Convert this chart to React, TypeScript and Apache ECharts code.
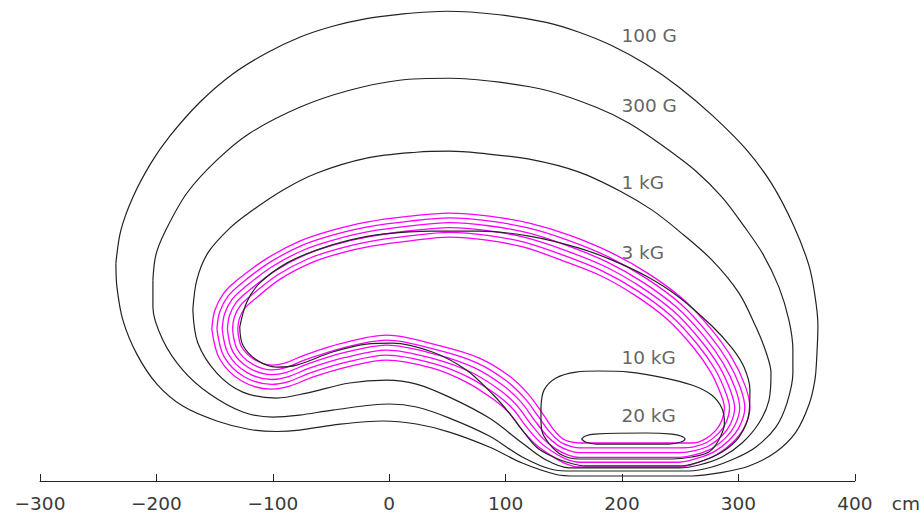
import React, { useEffect, useRef } from "react";
import * as echarts from "echarts";

type P = number[][];

const xTicks = [-300, -200, -100, 0, 100, 200, 300, 400];
const unit = "cm";
const labelNames = ["100 G", "300 G", "1 kG", "3 kG", "10 kG", "20 kG"];
const labelX = [199.5, 199.5, 199.5, 199.5, 199.5, 199.5];
const labelY = [382, 322, 256.5, 196.5, 106.4, 56.6];

const g100: P = [[-234.8,187],[-230.5,215.3],[-220.2,243.6],[-204.7,272.8],[-188.5,296],[-162.7,325.1],[-134.4,349.4],[-105.3,367.4],[-76.9,380.9],[-48.6,390.3],[-19.5,396.9],[8.8,400.6],[49.2,403.2],[94.6,400.2],[134.9,393.7],[163.2,385.2],[191.5,373.6],[220.7,357.7],[249,338],[277.3,314],[306.5,284.8],[328.8,254.8],[347.7,218.7],[360.5,185.3],[365.7,159.6],[368.3,133.8],[367.4,108.1],[365.7,86.6],[360.5,65.2],[349.4,42],[332.2,24.9],[309.1,12.9],[283.3,6.9],[260.2,4.3],[160.7,4.3],[143.5,5.6],[114.3,15.4],[86,29.2],[51.7,42],[23.4,48.9],[-5.7,51.5],[-48.6,48],[-76.9,43.7],[-96.7,42.5],[-119.8,44.2],[-148.1,51.5],[-177.3,64.3],[-199.6,83.2],[-216.8,108.9],[-228.8,138.1],[-233.9,166.4]];
const g300: P = [[-203,172.4],[-200.5,193.9],[-192.8,213.6],[-173.9,247],[-148.1,275.4],[-119.8,298.5],[-76.9,320.8],[-34.1,335.4],[8.8,344],[51.7,345.7],[94.6,342.3],[134.9,335.4],[177.8,320.8],[206.1,307.1],[234.4,288.2],[263.6,265.9],[285.9,243.6],[304.8,218.7],[321.1,194.7],[334.8,166.4],[343.4,138.1],[346.8,112.4],[346.8,92.6],[341.7,66.9],[332.2,46.3],[315.1,29.2],[297.9,19.7],[277.3,12],[257.6,8.6],[159,8.6],[140.1,9.9],[114.3,20.6],[86,38.6],[51.7,54],[23.4,63.5],[0.3,66.1],[-48.6,60.9],[-76.9,56.6],[-100.1,54.9],[-125.8,59.2],[-154.1,74.6],[-177.3,95.2],[-194.5,121],[-203,149.3]];
const kg1: P = [[-168.7,146.7],[-165.3,172.4],[-155.9,195.6],[-137,217],[-119.8,230.7],[-91.5,249.6],[-62.4,264.2],[-19.5,277.1],[23.4,282.2],[51.7,283.1],[77.5,281.4],[120.3,276.2],[163.2,265.1],[200.1,247.9],[225.9,232.5],[249,214.5],[277.3,189.6],[300.5,161.3],[315.1,132.1],[323.7,110.7],[328,92.6],[326.3,69.5],[317.7,49.8],[303.1,32.6],[285.9,20.6],[266.2,13.7],[249,11.2],[154.7,11.2],[134.9,18],[114.3,32.6],[86,54],[51.7,72],[23.4,83.2],[-2.3,86.6],[-34.1,84.1],[-70.9,75.5],[-96.7,71.2],[-125.8,76.3],[-148.1,92.6],[-164.4,118.4]];
const kg3: P = [[-128.4,132.1],[-122.4,153.5],[-111.3,169.8],[-88.1,187],[-62.4,198.2],[-34.1,206.7],[-5.7,211.9],[37.1,214.5],[77.5,214.5],[120.3,210.2],[163.2,199.9],[191.5,189.6],[220.7,175.9],[249,157.8],[277.3,133],[294.5,114.1],[304.8,97.8],[309.9,78.1],[309.1,58.3],[300.5,37.7],[285.9,24.9],[266.2,16.3],[249,12.9],[169.2,12.9],[152,16.3],[137.5,22.3],[126.4,29.2],[114.3,43.7],[103.2,58.3],[89.5,73.8],[66.3,95.2],[37.1,110.7],[2.8,118.4],[-19.5,117.5],[-48.6,110.7],[-79.5,99.5],[-96.7,97.8],[-113.8,103.8],[-125.8,116.7]];
const kg10: P = [[130.4,63.5],[133,78],[143.3,88.4],[160.4,93.5],[180,94.4],[206,93.5],[234,89],[260,82.4],[277,73.8],[285.7,62.6],[288,49.8],[283,35],[274.6,24.9],[260,20.6],[242.8,18.9],[163,18.9],[148.4,22.3],[137,32.6],[131,43.8],[130.4,55]];
const kg20: P = [[165.1,36],[168.6,38.6],[176.3,40.3],[220.7,41.2],[243,40.3],[250.7,38.6],[254.1,36],[250.7,33.5],[240.4,31.7],[178,31.7],[168.6,33.5]];

const coil1: P = [[-152.4,130.4],[-149.9,146.2],[-142.1,161.3],[-129.8,173.1],[-105.3,190.9],[-76.9,205.9],[-48.6,215.3],[-19.5,222.2],[17.4,227.3],[51.7,229.9],[86,227.3],[120.3,221.3],[154.7,211],[191.5,195.6],[223.3,177.6],[253.3,155.3],[277.3,129.5],[294.5,105.5],[305.6,82.3],[309.9,62.6],[304.8,45.5],[294.5,32.6],[280.8,22.3],[266.2,16.3],[249,12],[163.2,12],[150.4,15.4],[138.4,22.3],[126.4,30.9],[114.3,43.7],[103.2,58.3],[90.3,69.5],[66.3,84.9],[37.1,96.9],[-2.3,103.8],[-36.6,97.8],[-65.8,89.2],[-85.5,81.5],[-101,78.9],[-126.7,85.8],[-145.6,104.7]];
const coil2: P = [[-148,130.4],[-145.7,144.8],[-138.5,158.6],[-127.3,169.4],[-103,187.4],[-74.9,202.2],[-47.2,211.4],[-18.6,218.1],[17.8,223.1],[51.7,225.8],[85.6,223.2],[119.4,217.2],[153.3,206.7],[189.5,191.8],[220.9,173.9],[250.5,151.9],[274.1,126.5],[290.8,103.1],[301.5,80.7],[305.5,62.6],[301,46.9],[291.8,34.8],[278.9,25],[265,19.6],[249,16.1],[163.2,16.1],[151.6,19],[140.5,25.1],[129.3,33.6],[117.7,46.6],[106.5,61.6],[92.9,73.6],[68.5,89],[38.3,100.8],[-2.3,108.1],[-37.6,101.8],[-67.2,93],[-86.4,85.4],[-101,83],[-124.6,89.5],[-141.9,106.8]];
const coil3: P = [[-143.5,130.4],[-141.4,143.5],[-135,155.9],[-124.8,165.7],[-100.7,183.9],[-73,198.5],[-45.9,207.4],[-17.8,214],[18.3,218.9],[51.7,221.7],[85.2,219.1],[118.5,213.1],[151.9,202.4],[187.4,187.9],[218.5,170.3],[247.7,148.5],[271,123.5],[287.1,100.8],[297.4,79.1],[301.1,62.6],[297.2,48.2],[289,37],[277,27.8],[263.8,22.8],[249,20.2],[163.2,20.2],[152.8,22.6],[142.5,28],[132.2,36.4],[121.2,49.5],[109.7,64.8],[95.5,77.7],[70.8,93.1],[39.5,104.6],[-2.3,112.4],[-38.7,105.8],[-68.6,96.8],[-87.2,89.4],[-101,87.1],[-122.4,93.2],[-138.2,109]];
const coil4: P = [[-139,130.4],[-137.2,142.1],[-131.4,153.3],[-122.3,162],[-98.3,180.3],[-71,194.7],[-44.5,203.5],[-16.9,209.8],[18.7,214.8],[51.7,217.5],[84.7,214.9],[117.5,208.9],[150.6,198.2],[185.4,184.1],[216.1,166.6],[244.9,145.2],[267.8,120.4],[283.5,98.4],[293.2,77.5],[296.8,62.6],[293.5,49.6],[286.3,39.3],[275.1,30.5],[262.6,26.1],[249,24.4],[163.2,24.4],[154,26.3],[144.6,30.8],[135.1,39.1],[124.6,52.5],[113,68.1],[98,81.9],[73,97.3],[40.7,108.5],[-2.3,116.6],[-39.7,109.9],[-69.9,100.5],[-88.1,93.3],[-101,91.3],[-120.3,97],[-134.4,111.1]];
const coil5: P = [[-134.6,130.4],[-133,140.8],[-127.9,150.6],[-119.8,158.3],[-96,176.8],[-69.1,191],[-43.2,199.5],[-16.1,205.7],[19.2,210.6],[51.7,213.4],[84.3,210.8],[116.6,204.8],[149.2,193.9],[183.3,180.2],[213.7,163],[242.1,141.8],[264.7,117.4],[279.8,96.1],[289.1,75.9],[292.4,62.6],[289.7,50.9],[283.5,41.5],[273.2,33.3],[261.4,29.3],[249,28.5],[163.2,28.5],[155.2,29.9],[146.6,33.7],[138,41.9],[128.1,55.4],[116.2,71.3],[100.6,86],[75.3,101.4],[41.9,112.3],[-2.3,120.9],[-40.8,113.9],[-71.3,104.3],[-88.9,97.3],[-101,95.4],[-118.1,100.7],[-130.7,113.3]];
const coil6: P = [[-130.1,130.4],[-128.7,139.4],[-124.3,147.9],[-117.3,154.6],[-93.7,173.3],[-67.1,187.3],[-41.8,195.6],[-15.2,201.6],[19.6,206.4],[51.7,209.3],[83.9,206.7],[115.7,200.7],[147.8,189.6],[181.3,176.4],[211.3,159.3],[239.3,138.4],[261.5,114.4],[276.1,93.7],[285,74.3],[288,62.6],[285.9,52.3],[280.8,43.7],[271.3,36],[260.2,32.6],[249,32.6],[163.2,32.6],[156.4,33.5],[148.7,36.5],[140.9,44.6],[131.5,58.3],[119.5,74.6],[103.2,90.1],[77.5,105.5],[43.1,116.2],[-2.3,125.2],[-41.8,117.9],[-72.7,108.1],[-89.8,101.2],[-101,99.5],[-116,104.4],[-127,115.4]];

const FONT = '"DejaVu Sans", sans-serif';
const TEXT_COLOR = "#3a3a3a";
const TEXT_SIZE = 18.5;

function loop(name: string, pts: P, color: string, width: number) {
  return {
    name,
    type: "line",
    data: [...pts, pts[0]],
    showSymbol: false,
    symbol: "none",
    smooth: 0.33,
    silent: true,
    lineStyle: { color, width },
  };
}

export default function App() {
  const ref = useRef<HTMLDivElement>(null);
  useEffect(() => {
    const chart = echarts.init(ref.current!, null, { renderer: "svg" });
    chart.setOption({
      animation: false,
      backgroundColor: "#ffffff",
      grid: { left: 40, right: 67, top: 1, bottom: 32 },
      xAxis: {
        type: "value",
        min: -300,
        max: 400,
        interval: 100,
        name: unit,
        nameLocation: "end",
        nameGap: 37,
        nameTextStyle: { fontFamily: FONT, fontSize: TEXT_SIZE, color: TEXT_COLOR, verticalAlign: "top", padding: [13, 0, 0, 0] },
        axisLine: { show: true, onZero: false, lineStyle: { color: "#222", width: 1 } },
        axisTick: { show: true, inside: true, length: 7, lineStyle: { color: "#222", width: 1 } },
        axisLabel: {
          margin: 13,
          fontFamily: FONT,
          fontSize: TEXT_SIZE,
          color: TEXT_COLOR,
          customValues: xTicks,
          formatter: (v: number) => (v < 0 ? "\u2212" + Math.abs(v) : String(v)),
        },
        splitLine: { show: false },
      },
      yAxis: { type: "value", min: 0, max: 412, show: false, splitLine: { show: false } },
      series: [
        loop("coil 1", coil1, "#ff00ff", 1.3),
        loop("coil 2", coil2, "#ff00ff", 1.3),
        loop("coil 3", coil3, "#ff00ff", 1.3),
        loop("coil 4", coil4, "#ff00ff", 1.3),
        loop("coil 5", coil5, "#ff00ff", 1.3),
        loop("coil 6", coil6, "#ff00ff", 1.3),
        loop("100 G", g100, "#222", 1.2),
        loop("300 G", g300, "#222", 1.2),
        loop("1 kG", kg1, "#222", 1.2),
        loop("3 kG", kg3, "#222", 1.2),
        loop("10 kG", kg10, "#222", 1.2),
        loop("20 kG", kg20, "#222", 1.2),
        {
          type: "scatter",
          symbolSize: 0,
          silent: true,
          data: labelNames.map((n, i) => ({ name: n, value: [labelX[i], labelY[i]] })),
          label: {
            show: true,
            position: "right",
            distance: 0,
            formatter: (p: any) => p.name,
            fontFamily: FONT,
            fontSize: TEXT_SIZE,
            color: TEXT_COLOR,
          },
        },
      ],
    });
    return () => chart.dispose();
  }, []);
  return <div ref={ref} style={{ position: "fixed", left: 0, top: 0, width: 923, height: 513 }} />;
}
